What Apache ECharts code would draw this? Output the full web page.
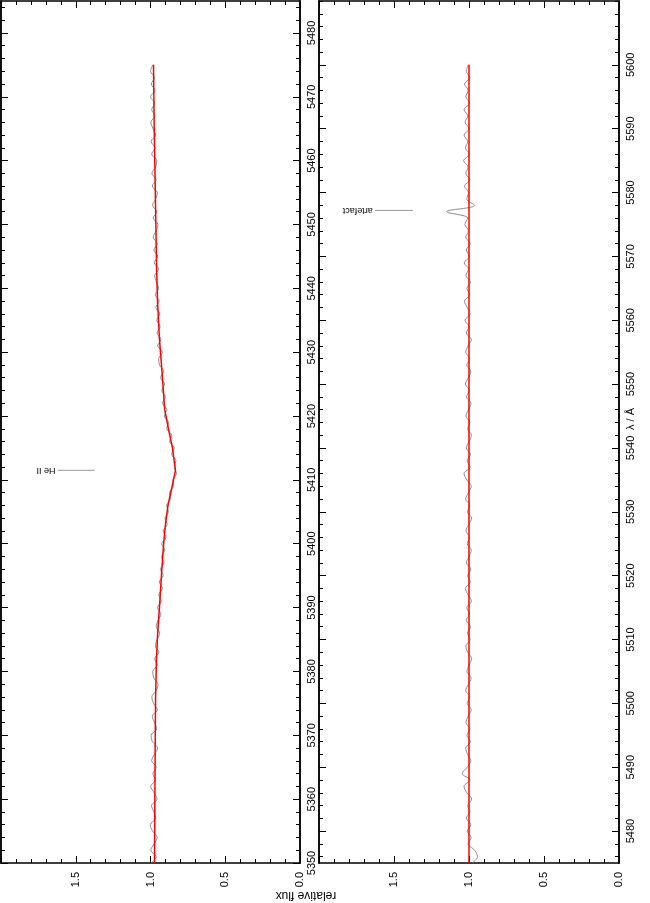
<!DOCTYPE html>
<html><head><meta charset="utf-8">
<script src="https://cdn.jsdelivr.net/npm/echarts@6/dist/echarts.min.js"></script>
<style>html,body{margin:0;padding:0;background:#fff}#c{width:650px;height:903px}</style>
</head><body><div id="c"></div>
<script>
// ---- data ----
const fluxTicks = [0.0, 0.5, 1.0, 1.5];
const waveTicksA = [5350,5360,5370,5380,5390,5400,5410,5420,5430,5440,5450,5460,5470,5480];
const waveTicksB = [5480,5490,5500,5510,5520,5530,5540,5550,5560,5570,5580,5590,5600];
const waveRangeA = [5350, 5485];
const waveRangeB = [5475, 5610];

// observed spectrum, panel A: 1 Å sampling starting 5350 Å
const obsStartA = 5350;
const obsFluxA = [
0.995,0.962,0.998,0.976,0.955,0.986,1.002,0.965,0.978,0.993,
0.956,0.976,0.999,0.968,0.984,0.962,0.992,0.975,0.952,0.987,
0.996,0.958,0.973,0.988,0.954,0.980,0.991,0.962,0.950,0.978,
0.985,0.955,0.972,0.944,0.968,0.956,0.938,0.962,0.950,0.930,
0.953,0.928,0.944,0.920,0.941,0.915,0.933,0.910,0.926,0.904,
0.925,0.896,0.916,0.888,0.903,0.880,0.892,0.868,0.872,0.848,
0.850,0.826,0.840,0.830,0.858,0.842,0.872,0.858,0.892,0.878,
0.908,0.890,0.920,0.902,0.924,0.906,0.932,0.912,0.940,0.945,
0.920,0.952,0.930,0.956,0.936,0.958,0.938,0.964,0.942,0.968,
0.946,0.960,0.972,0.946,0.975,0.952,0.978,0.955,0.982,0.962,
0.950,0.982,0.958,0.986,0.966,0.954,0.988,0.962,0.991,0.966,
0.958,0.992,0.970,0.996,0.966,0.983,0.998,0.970,0.992,0.972,
1.000,0.970,0.994,0.974,1.000,0.984
];
// model, panel A: [wavelength, flux]
const modelA = [
[5350,0.973],[5360,0.971],[5370,0.968],[5376,0.966],[5382,0.960],[5386,0.952],
[5390,0.940],[5395,0.927],[5400,0.912],[5403,0.900],[5406,0.883],[5409,0.855],
[5411.5,0.833],[5413,0.842],[5415,0.853],[5418,0.880],[5421,0.905],[5426,0.920],
[5432,0.940],[5438,0.953],[5444,0.960],[5454,0.967],[5465,0.975],[5475,0.980]
];

// observed spectrum, panel B: 1 Å sampling starting 5475 Å
const obsStartB = 5475;
const obsFluxB = [
0.978,0.943,0.963,1.006,0.985,1.012,0.988,1.018,0.994,1.009,
0.982,1.015,1.033,0.993,1.045,1.012,0.988,1.009,1.022,0.990,
1.014,0.994,1.020,1.006,0.985,1.012,0.994,1.022,1.003,0.986,
1.014,1.000,0.982,1.009,1.021,0.993,1.010,0.990,1.018,0.997,
1.015,0.984,1.006,1.024,0.991,1.009,0.988,1.017,1.000,0.985,
1.012,0.995,1.020,1.002,0.982,1.010,0.994,1.022,1.004,0.985,
1.015,1.033,0.993,1.012,0.990,1.018,1.000,0.984,1.009,0.994,
1.021,1.003,0.986,1.017,0.997,1.024,1.004,0.988,1.015,0.995,
1.022,1.006,0.984,1.018,1.000,1.027,0.993,1.012,1.030,0.994,
1.014,0.990,1.021,1.003,1.032,0.997,1.018,0.991,1.022,1.004,
1.027,1.008,1.150,0.962,1.015,1.003,1.030,0.994,1.021,1.006,
1.036,0.997,1.024,1.009,1.033,0.998,1.026,1.008,1.033,0.995,
1.021,1.006,1.030,0.994,1.018,1.004
];
const modelB = [[5475,1.0],[5600,1.0]];

const annotations = [
  {panel:0, text:'He II', wave:5411.5, fluxFrom:1.373, fluxTo:1.62, textFlux:1.635},
  {panel:1, text:'artefact', wave:5577.2, fluxFrom:1.373, fluxTo:1.627, textFlux:1.642}
];
const axisTitles = {flux: 'relative flux', wave: 'λ / Å'};

// ---- build ----
const FONT = "'Liberation Sans', Arial, sans-serif";
const toPairs = (start, arr) => arr.map((f, i) => [f, start + i]);
const modelPairs = m => m.map(p => [p[1], p[0]]);
function minors(range, majors) {
  const out = [];
  for (let w = Math.ceil(range[0] / 2) * 2; w <= range[1]; w += 2) {
    if (majors.indexOf(w) < 0) out.push(w);
  }
  return out;
}

const grids = [
  {left: 1, right: 350, top: 1, bottom: 40},
  {left: 319, right: 31, top: 1, bottom: 40}
];
const ranges = [waveRangeA, waveRangeB];
const majors = [waveTicksA, waveTicksB];

const xAxes = [], yAxes = [];
grids.forEach((g, gi) => {
  ['bottom', 'top'].forEach(pos => {
    xAxes.push({
      gridIndex: gi, type: 'value', position: pos, min: 0, max: 2, interval: 0.5, inverse: true,
      axisLine: {show: true, onZero: false, lineStyle: {color: '#000', width: 1.5}},
      axisTick: {show: true, inside: true, length: 7, lineStyle: {color: '#000', width: 1}},
      minorTick: {show: true, splitNumber: 5, length: 4, lineStyle: {color: '#000', width: 1}},
      splitLine: {show: false}, minorSplitLine: {show: false},
      axisLabel: pos === 'bottom' ? {
        show: true, rotate: 90, margin: 9, fontSize: 11, color: '#000', fontFamily: FONT,
        customValues: fluxTicks, formatter: v => Number(v).toFixed(1)
      } : {show: false}
    });
  });
  const mn = minors(ranges[gi], majors[gi]);
  ['right', 'left'].forEach(pos => {
    yAxes.push({
      gridIndex: gi, type: 'value', position: pos, min: ranges[gi][0], max: ranges[gi][1],
      axisLine: {show: true, onZero: false, lineStyle: {color: '#000', width: 1.5}},
      axisTick: {show: true, inside: true, length: 7, customValues: majors[gi], lineStyle: {color: '#000', width: 1}},
      splitLine: {show: false},
      axisLabel: pos === 'right' ? {
        show: true, rotate: 90, margin: 6, fontSize: 11, color: '#000', fontFamily: FONT,
        customValues: majors[gi], formatter: v => String(v)
      } : {show: false}
    });
    yAxes.push({
      gridIndex: gi, type: 'value', position: pos, min: ranges[gi][0], max: ranges[gi][1],
      axisLine: {show: true, onZero: false, lineStyle: {color: '#000', width: 1.5}},
      axisTick: {show: true, inside: true, length: 4, customValues: mn, lineStyle: {color: '#000', width: 1}},
      splitLine: {show: false},
      axisLabel: {show: false}
    });
  });
});

const series = [];
const obsSets = [toPairs(obsStartA, obsFluxA), toPairs(obsStartB, obsFluxB)];
const modSets = [modelPairs(modelA), modelPairs(modelB)];
[0, 1].forEach(gi => {
  series.push({
    type: 'line', xAxisIndex: gi * 2, yAxisIndex: gi * 4, data: obsSets[gi],
    showSymbol: false, smooth: 0.35, silent: true,
    lineStyle: {color: '#8c8c8c', width: 1}, z: 2
  });
  series.push({
    type: 'line', xAxisIndex: gi * 2, yAxisIndex: gi * 4, data: modSets[gi],
    showSymbol: false, silent: true,
    lineStyle: {color: '#ff0000', width: 1.5}, z: 3
  });
});
annotations.forEach(a => {
  series.push({
    type: 'line', xAxisIndex: a.panel * 2, yAxisIndex: a.panel * 4,
    data: [[a.fluxFrom, a.wave], [a.fluxTo, a.wave]],
    showSymbol: false, silent: true, lineStyle: {color: '#999', width: 1}
  });
});

const chart = echarts.init(document.getElementById('c'), null, {renderer: 'canvas'});
chart.setOption({
  animation: false,
  backgroundColor: '#fff',
  grid: grids,
  xAxis: xAxes,
  yAxis: yAxes,
  series: series
});

const graphics = [{
  type: 'text', x: 306, y: 895, rotation: Math.PI,
  style: {text: axisTitles.flux, font: '12px ' + FONT, fill: '#000', align: 'center', verticalAlign: 'middle'}
}, {
  type: 'text', x: 631, y: 419, rotation: Math.PI / 2,
  style: {text: axisTitles.wave, font: '11px ' + FONT, fill: '#000', align: 'center', verticalAlign: 'middle'}
}];
annotations.forEach(a => {
  const p = chart.convertToPixel({xAxisIndex: a.panel * 2, yAxisIndex: a.panel * 4}, [a.textFlux, a.wave]);
  graphics.push({
    type: 'text', x: p[0], y: p[1], rotation: Math.PI,
    style: {text: a.text, font: '9px ' + FONT, fill: '#000', align: 'left', verticalAlign: 'middle'}
  });
});
chart.setOption({graphic: graphics});
</script>
</body></html>
